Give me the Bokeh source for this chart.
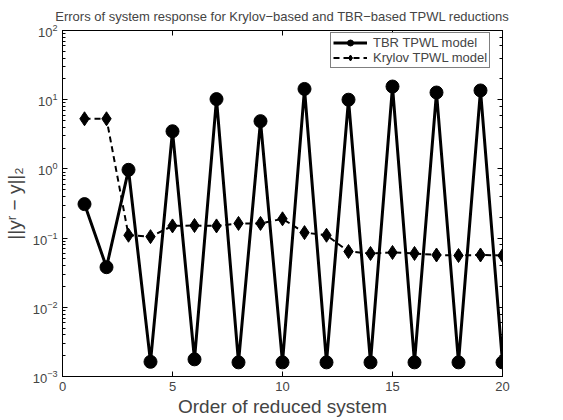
from bokeh.plotting import figure
from bokeh.models import LogAxis, LinearAxis, SingleIntervalTicker, Range1d, Legend, LegendItem, CustomJSTickFormatter
from bokeh.embed import file_html
from bokeh.resources import INLINE

orders = list(range(1, 21))
tbr_err = [0.31, 0.038, 0.97, 0.00163, 3.5, 0.00177, 10.2, 0.0016, 4.9, 0.0016,
           14.3, 0.0016, 10.0, 0.0016, 15.5, 0.0016, 12.7, 0.0016, 13.6, 0.0016]
krylov_err = [5.3, 5.3, 0.11, 0.105, 0.15, 0.152, 0.15, 0.163, 0.163, 0.19,
              0.12, 0.11, 0.064, 0.06, 0.062, 0.06, 0.057, 0.056, 0.057, 0.056]

FONT = "Liberation Sans"

p = figure(frame_width=440, frame_height=346, y_axis_type="log",
           x_range=Range1d(0, 20), y_range=Range1d(1e-3, 1e2),
           output_backend="svg", toolbar_location=None,
           min_border_left=60, min_border_top=30, min_border_right=47, min_border_bottom=34,
           title="Errors of system response for Krylov\u2212based and TBR\u2212based TPWL reductions")
p.title.align = "center"
p.title.text_font = FONT
p.title.text_font_size = "13px"
p.title.text_font_style = "normal"
p.title.standoff = 13
p.title.offset = 0
p.grid.visible = False
p.outline_line_color = "black"
p.outline_line_width = 1
p.background_fill_color = "white"
p.border_fill_color = "white"

tbr_line = p.line(orders, tbr_err, line_color="black", line_width=3)
tbr_mark = p.scatter(orders, tbr_err, marker="circle", size=13, color="black")
kr_line = p.line(orders, krylov_err, line_color="black", line_width=2, line_dash="6 4")
kr_mark = p.scatter(orders, krylov_err, marker="diamond", size=14, color="black")

xa = p.xaxis[0]
xa.ticker = SingleIntervalTicker(interval=5, num_minor_ticks=0)
xa.axis_label = "Order of reduced system"
ya = p.yaxis[0]
ya.axis_label = "||y\u02b3 \u2212 y||\u2082"

for ax in (xa, ya):
    ax.axis_label_text_font = FONT
    ax.axis_label_text_font_size = "19px"
    ax.axis_label_text_font_style = "normal"
    ax.major_label_text_font = FONT
    ax.major_label_text_font_size = "13px"
    ax.major_tick_in = 5
    ax.major_tick_out = 0
    ax.minor_tick_in = 3
    ax.minor_tick_out = 0
    ax.axis_line_color = "black"
    ax.major_tick_line_color = "black"
    ax.minor_tick_line_color = "black"
    ax.major_label_standoff = 5
xa.axis_label_standoff = 2
ya.axis_label_standoff = 5

top = LinearAxis(ticker=SingleIntervalTicker(interval=5, num_minor_ticks=0),
                 formatter=CustomJSTickFormatter(code="return '';"),
                 major_tick_in=5, major_tick_out=0,
                 major_label_standoff=0, axis_line_color="black")
right = LogAxis(formatter=CustomJSTickFormatter(code="return '';"),
                major_tick_in=5, major_tick_out=0,
                minor_tick_in=3, minor_tick_out=0, major_label_standoff=0,
                axis_line_color="black")
p.add_layout(top, "above")
p.add_layout(right, "right")

legend = Legend(items=[LegendItem(label="TBR TPWL model", renderers=[tbr_line, tbr_mark]),
                       LegendItem(label="Krylov TPWL model", renderers=[kr_line, kr_mark])],
                location=(268, 308))
legend.label_text_font = FONT
legend.label_text_font_size = "13px"
legend.border_line_color = "black"
legend.border_line_width = 1
legend.padding = 2
legend.spacing = 0
legend.margin = 0
legend.glyph_width = 34
legend.glyph_height = 15
legend.label_height = 15
legend.label_standoff = 6
p.add_layout(legend)

open("out.html", "w").write(file_html(p, INLINE))
